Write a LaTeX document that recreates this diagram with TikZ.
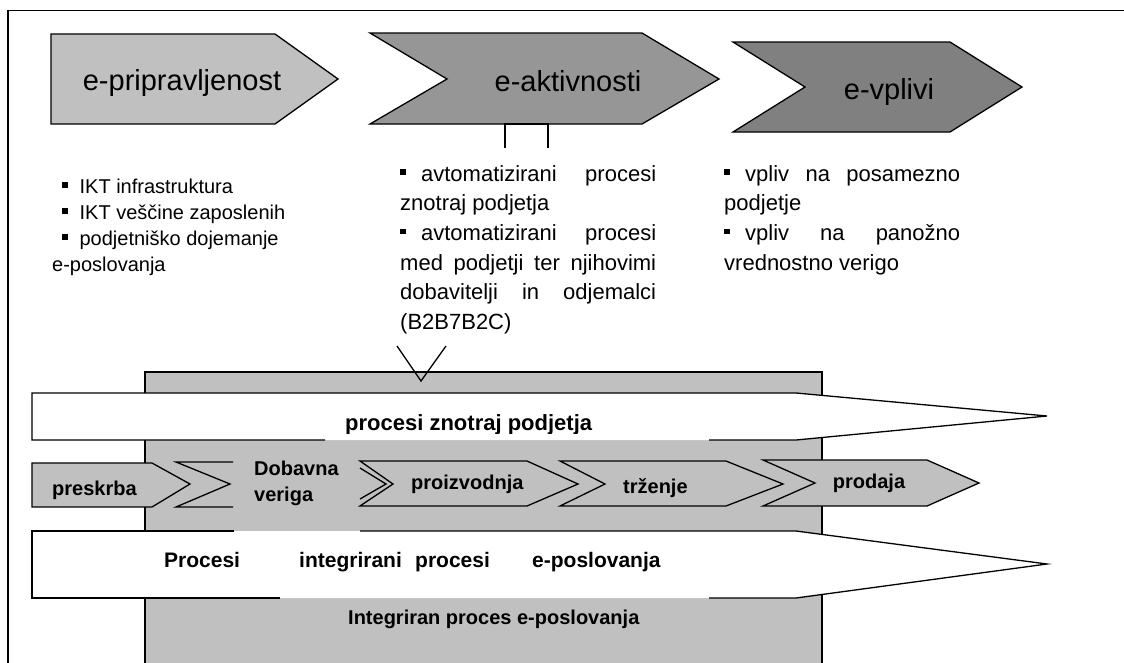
\documentclass[tikz,border=0pt]{standalone}
\usepackage{fontspec}
\setmainfont{Liberation Sans}
\definecolor{greyA}{HTML}{C0C0C0}
\definecolor{greyB}{HTML}{969696}
\definecolor{greyC}{HTML}{808080}
\newcommand{\sqb}{\rule[0.27em]{0.27em}{0.27em}}
\begin{document}
\begin{tikzpicture}[x=1pt,y=-1pt,
  outline/.style={draw=black,line width=1.3pt,line join=miter},
  biglabel/.style={inner sep=0pt,anchor=base,font=\fontsize{29}{34}\selectfont},
  bodytext/.style={inner sep=0pt,anchor=base west,font=\fontsize{22}{26}\selectfont},
  leftcol/.style={inner sep=0pt,anchor=base west,font=\fontsize{20}{24}\selectfont},
  boldtext/.style={inner sep=0pt,anchor=base west,font=\fontsize{20}{24}\selectfont\bfseries},
]
\useasboundingbox (0,0) rectangle (1124,662);

% outer frame (continues past the right and bottom edges)
\draw[line width=1.5pt] (8,700) -- (8,10.5) -- (1140,10.5);

% ---- three stage chevrons ----
\filldraw[fill=greyA,outline] (51,34) -- (275,34) -- (338,79) -- (275,124) -- (51,124) -- cycle;
\filldraw[fill=greyB,outline] (370,33) -- (642,33) -- (719,79) -- (642,124) -- (370,124) -- (447,79) -- cycle;
\filldraw[fill=greyC,outline] (733,42) -- (950,42) -- (1022,87) -- (950,132) -- (733,132) -- (805,87) -- cycle;
\node[biglabel] (pripr) at (182,90) {e-pripravljenost};
\node[biglabel] (aktiv) at (568,91) {e-aktivnosti};
\node[biglabel] (vplivi) at (889,99) {e-vplivi};

% bracket under e-aktivnosti
\draw[line width=1.3pt] (505,148) -- (505,124) -- (548,124) -- (548,148);

% ---- column texts ----
\node[leftcol] (l1) at (62,193) {\sqb\hspace{12pt}IKT infrastruktura};
\node[leftcol] (l2) at (62,219) {\sqb\hspace{12pt}IKT veščine zaposlenih};
\node[leftcol] (l3) at (62,245) {\sqb\hspace{12pt}podjetniško dojemanje};
\node[leftcol] (l4) at (52,271) {e-poslovanja};

\node[bodytext] (m1) at (400,181) {\makebox[256pt][s]{\sqb\hspace{15pt}avtomatizirani procesi}};
\node[bodytext] (m2) at (400,210.7) {znotraj podjetja};
\node[bodytext] (m3) at (400,240.4) {\makebox[256pt][s]{\sqb\hspace{15pt}avtomatizirani procesi}};
\node[bodytext] (m4) at (400,270.1) {\makebox[256pt][s]{med podjetji ter njihovimi}};
\node[bodytext] (m5) at (400,299.8) {\makebox[256pt][s]{dobavitelji in odjemalci}};
\node[bodytext] (m6) at (400,329.5) {(B2B7B2C)};

\node[bodytext] (r1) at (724,181) {\makebox[236pt][s]{\sqb\hspace{15pt}vpliv na posamezno}};
\node[bodytext] (r2) at (724,210.7) {podjetje};
\node[bodytext] (r3) at (724,240.4) {\makebox[236pt][s]{\sqb\hspace{15pt}vpliv na panožno}};
\node[bodytext] (r4) at (724,270.1) {vrednostno verigo};

% ---- lower block ----
\filldraw[fill=greyA,outline] (145,372) rectangle (822,720);

% pointer down into the block
\draw[line width=1.3pt] (397,346) -- (421,381) -- (446,346);

% upper white arrow
\fill[white] (32,393) -- (796,393) -- (1047,416) -- (796,440) -- (32,440) -- cycle;
\draw[outline] (325,440) -- (32,440) -- (32,393) -- (796,393) -- (1047,416) -- (796,440) -- (709,440);
\begin{scope}
  \clip (30,390) rectangle (800,433);
  \node[boldtext,font=\fontsize{22}{26}\selectfont\bfseries] (intra) at (345,430) {procesi znotraj podjetja};
\end{scope}

% lower white arrow
\fill[white] (32,531) -- (796,531) -- (1047,564) -- (796,598) -- (32,598) -- cycle;
\draw[outline] (234,531) -- (32,531) -- (32,598) -- (280,598);
\draw[outline] (360,531) -- (796,531) -- (1047,564) -- (796,598) -- (709,598);
\node[boldtext,font=\fontsize{21}{25}\selectfont\bfseries] (p1) at (164,567) {Procesi};
\node[boldtext,font=\fontsize{21}{25}\selectfont\bfseries] (p2) at (299,567) {integrirani};
\node[boldtext,font=\fontsize{21}{25}\selectfont\bfseries] (p3) at (415,567) {procesi};
\node[boldtext,font=\fontsize{21}{25}\selectfont\bfseries] (p4) at (532,567) {e-poslovanja};
\node[boldtext] (integ) at (348,624) {Integriran proces e-poslovanja};

% ---- value chain row ----
\filldraw[fill=greyA,outline] (32,463) -- (152,463) -- (190,484) -- (152,507) -- (32,507) -- cycle;
\node[boldtext] (preskrba) at (52,495) {preskrba};

\draw[outline] (233,462) -- (176,462) -- (230,484) -- (176,507) -- (233,507);
\node[boldtext] (dob1) at (254,475) {Dobavna};
\node[boldtext] (dob2) at (254,501) {veriga};

\filldraw[fill=greyA,outline] (360,461) -- (527,461) -- (578,484) -- (527,506) -- (360,506) -- (393,484) -- cycle;
\draw[outline] (360,468) -- (386,484) -- (360,499);
\node[boldtext] (proiz) at (411,489) {proizvodnja};

\filldraw[fill=greyA,outline] (560,461) -- (726,461) -- (783,484) -- (726,506) -- (560,506) -- (605,484) -- cycle;
\node[boldtext] (trz) at (623,493) {trženje};

\filldraw[fill=greyA,outline] (763,460) -- (927,460) -- (979,483) -- (927,506) -- (763,506) -- (815,483) -- cycle;
\node[boldtext,anchor=base] (prod) at (869,488) {prodaja};
\end{tikzpicture}
\end{document}
